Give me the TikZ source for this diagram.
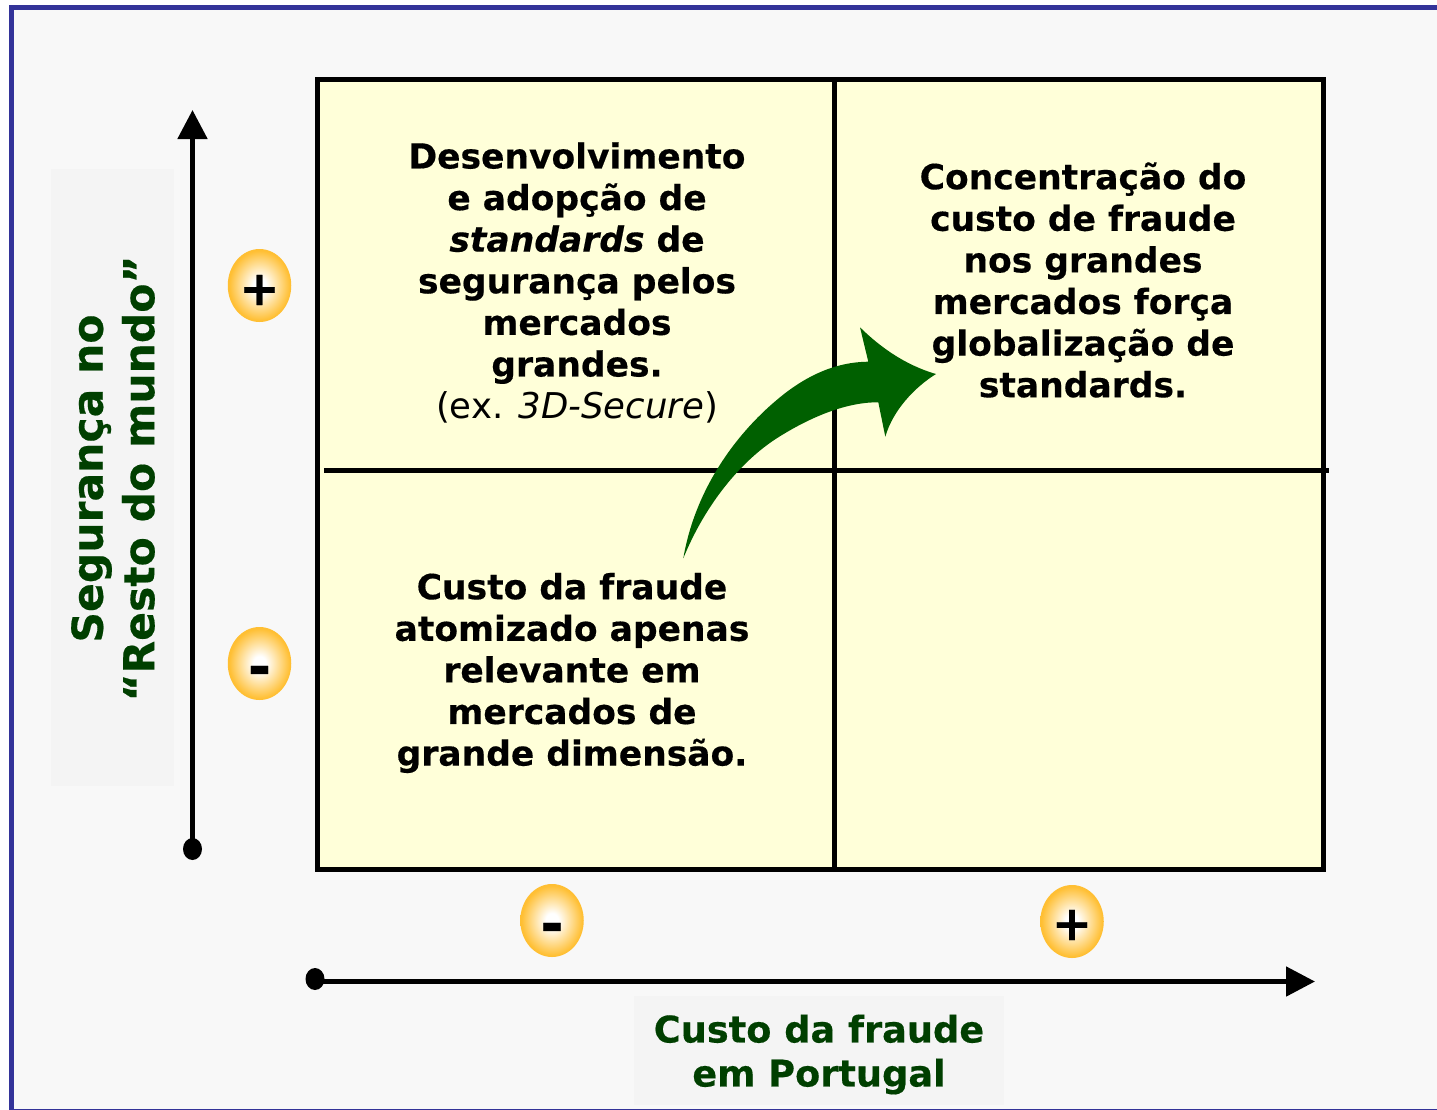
\documentclass[tikz,border=0pt]{standalone}
\usepackage{fontspec}
\setmainfont{DejaVu Sans}[BoldFeatures={FakeBold=0.4},BoldItalicFeatures={FakeBold=0.4}]
\usetikzlibrary{arrows.meta,shapes.geometric}
\definecolor{bluefr}{HTML}{333399}
\definecolor{bgpage}{HTML}{F8F8F8}
\definecolor{bglabel}{HTML}{F4F4F4}
\definecolor{cellfill}{HTML}{FFFFD9}
\definecolor{arrowgreen}{HTML}{006000}
\definecolor{labelgreen}{HTML}{003F00}
\definecolor{orbedge}{HTML}{FFBF33}
\pgfdeclareradialshading{orb}{\pgfpoint{0bp}{0bp}}{color(0bp)=(white);color(5bp)=(white);color(24bp)=(orbedge);color(100bp)=(orbedge)}
\tikzset{
  x=1pt,y=-1pt,
  celltext/.style={align=center,inner sep=0pt,font=\fontsize{34.5}{41.6}\selectfont\bfseries},
  axislabel/.style={align=center,inner sep=0pt,text=labelgreen,font=\fontsize{36.7}{44}\selectfont\bfseries},
  sidelabel/.style={align=center,inner sep=0pt,text=labelgreen,font=\fontsize{42.5}{51.5}\selectfont\bfseries},
  orbnode/.style={draw=none,ellipse,minimum width=63.5pt,minimum height=73pt,inner sep=0pt,shading=orb},
  orbsign/.style={inner sep=0pt,font=\fontsize{48}{48}\selectfont\bfseries},
  orbminus/.style={inner sep=0pt,font=\fontsize{56}{56}\selectfont\bfseries},
  axisdot/.style={ellipse,fill=black,draw=none,minimum width=19pt,minimum height=22pt,inner sep=0pt},
  axisline/.style={line width=5pt,-{Triangle[length=29pt,width=29pt]}},
  gridline/.style={line width=5pt,black},
}
\begin{document}
\begin{tikzpicture}
\useasboundingbox (0,0) rectangle (1437,1109);
\clip (0,0) rectangle (1437,1109);
\draw[line width=5pt,draw=bluefr,fill=bgpage] (11,7.5) rectangle (1440,1111);
\fill[bglabel] (51,169) rectangle (174,786);
\fill[bglabel] (634,996) rectangle (1004,1105);
% matrix
\node[draw=black,line width=5pt,fill=cellfill,minimum width=1006pt,minimum height=790pt,inner sep=0pt,outer sep=0pt] (box) at (820.5,474) {};
\coordinate (vt) at (834,79);
\coordinate (vb) at (834,872);
\coordinate (hl) at (324,470.5);
\coordinate (hr) at (1329,470.5);
\draw[gridline] (vt) -- (vb);
\draw[gridline] (hl) -- (hr);
% texts
\node[celltext] (t1) at (577,282.5) {Desenvolvimento\\e adopção de\\\textit{standards} de\\segurança pelos\\mercados\\grandes.\\\fontsize{35.5}{43}\selectfont\mdseries(ex. \textit{3D-Secure})};
\node[celltext] (t2) at (1083,280) {Concentração do\\custo de fraude\\nos grandes\\mercados força\\globalização de\\standards.};
\node[celltext] (t3) at (572,673) {Custo da fraude\\atomizado apenas\\relevante em\\mercados de\\grande dimensão.};
% green arrow
\fill[arrowgreen] (683.3,558.3)
  .. controls (695,490) and (735,435) .. (776.7,400)
  .. controls (805,376) and (835,362) .. (868.3,361.7)
  -- (860,327.3)
  .. controls (880,347) and (905,365) .. (936,374)
  .. controls (915,387) and (893,410) .. (885.3,436.7)
  -- (878.3,402.3)
  .. controls (850,402) and (815,414) .. (776.7,438.3)
  .. controls (740,462) and (705,505) .. (683.3,558.3) -- cycle;
% axes
\node[axisdot] (dy) at (192.5,849) {};
\coordinate (ty) at (192.5,110);
\draw[axisline] (dy.center) -- (ty);
\node[axisdot] (dx) at (315,979) {};
\coordinate (tx) at (1315,981.5);
\coordinate (sx) at (315,981.5);
\draw[axisline] (sx) -- (tx);
% orbs
\node[orbnode] (o1) at (259.5,285.5) {};
\node[orbnode] (o2) at (259.5,663.5) {};
\node[orbnode] (o3) at (552,920.5) {};
\node[orbnode] (o4) at (1072,921.5) {};
\node[orbsign] (s1) at (259.5,290) {+};
\node[orbminus] (s2) at (259.5,676) {-};
\node[orbminus] (s3) at (552,933) {-};
\node[orbsign] (s4) at (1072,925) {+};
% axis labels
\node[sidelabel,rotate=90] (ly) at (113,478.5) {Segurança no\\“Resto do mundo”};
\node[axislabel] (lx) at (819,1054.5) {Custo da fraude\\em Portugal};
\end{tikzpicture}
\end{document}
